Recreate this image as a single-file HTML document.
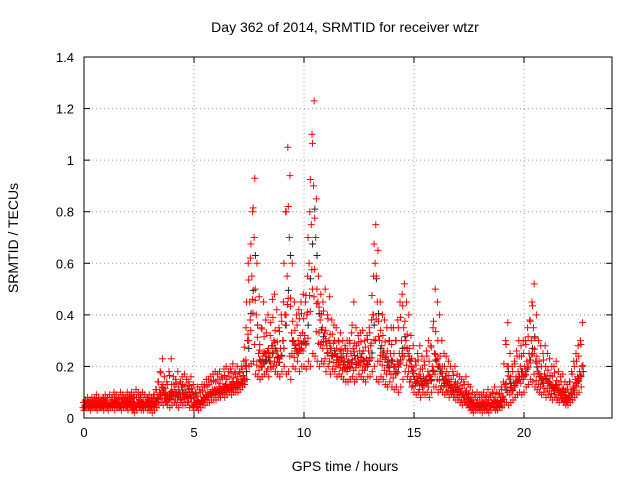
<!DOCTYPE html>
<html><head><meta charset="utf-8"><style>
body{margin:0;background:#fff}
svg{display:block;font-family:"Liberation Sans",sans-serif}
</style></head><body>
<svg id="chart" width="640" height="480">
<rect width="640" height="480" fill="#fff"/>
<g id="grid"></g>
<g id="blackpts"></g>
<g id="redpts"></g>
<rect x="84" y="57" width="528" height="361" fill="none" stroke="#000" stroke-width="1"/>
<g id="ticks"></g>
<text x="345" y="32" text-anchor="middle" font-size="14">Day 362 of 2014, SRMTID for receiver wtzr</text>
<text x="345" y="471" text-anchor="middle" font-size="14">GPS time / hours</text>
<text x="18" y="238" text-anchor="middle" font-size="14" transform="rotate(-90 18 238)">SRMTID / TECUs</text>
</svg>
<script>
const xTicks=[0,5,10,15,20];
const yTicks=[0,0.2,0.4,0.6,0.8,1,1.2,1.4];
const times=[0,0.1,0.2,0.3,0.4,0.5,0.6,0.7,0.8,0.9,1,1.1,1.2,1.3,1.4,1.5,1.6,1.7,1.8,1.9,2,2.1,2.2,2.3,2.4,2.5,2.6,2.7,2.8,2.9,3,3.1,3.2,3.3,3.4,3.5,3.6,3.7,3.8,3.9,4,4.1,4.2,4.3,4.4,4.5,4.6,4.7,4.8,4.9,5,5.1,5.2,5.3,5.4,5.5,5.6,5.7,5.8,5.9,6,6.1,6.2,6.3,6.4,6.5,6.6,6.7,6.8,6.9,7,7.1,7.2,7.3,7.4,7.5,7.6,7.7,7.8,7.9,8,8.1,8.2,8.3,8.4,8.5,8.6,8.7,8.8,8.9,9,9.1,9.2,9.3,9.4,9.5,9.6,9.7,9.8,9.9,10,10.1,10.2,10.3,10.4,10.5,10.6,10.7,10.8,10.9,11,11.1,11.2,11.3,11.4,11.5,11.6,11.7,11.8,11.9,12,12.1,12.2,12.3,12.4,12.5,12.6,12.7,12.8,12.9,13,13.1,13.2,13.3,13.4,13.5,13.6,13.7,13.8,13.9,14,14.1,14.2,14.3,14.4,14.5,14.6,14.7,14.8,14.9,15,15.1,15.2,15.3,15.4,15.5,15.6,15.7,15.8,15.9,16,16.1,16.2,16.3,16.4,16.5,16.6,16.7,16.8,16.9,17,17.1,17.2,17.3,17.4,17.5,17.6,17.7,17.8,17.9,18,18.1,18.2,18.3,18.4,18.5,18.6,18.7,18.8,18.9,19,19.1,19.2,19.3,19.4,19.5,19.6,19.7,19.8,19.9,20,20.1,20.2,20.3,20.4,20.5,20.6,20.7,20.8,20.9,21,21.1,21.2,21.3,21.4,21.5,21.6,21.7,21.8,21.9,22,22.1,22.2,22.3,22.4,22.5,22.6];
const valsLow=[.03,.04,.04,.03,.04,.04,.03,.04,.04,.03,.04,.03,.04,.04,.03,.04,.04,.03,.04,.04,.03,.04,.03,.02,.03,.04,.03,.03,.04,.03,.03,.02,.03,.04,.05,.06,.05,.06,.05,.04,.05,.06,.05,.04,.06,.05,.05,.06,.04,.05,.03,.04,.03,.04,.05,.05,.06,.06,.07,.07,.07,.08,.08,.09,.08,.09,.10,.09,.10,.10,.10,.11,.12,.13,.15,.20,.21,.22,.17,.16,.15,.16,.17,.18,.16,.19,.20,.18,.17,.16,.18,.20,.17,.18,.15,.20,.19,.22,.18,.20,.20,.19,.22,.20,.25,.24,.22,.20,.22,.21,.18,.20,.17,.19,.18,.16,.17,.16,.15,.14,.14,.15,.16,.14,.15,.17,.16,.15,.14,.16,.16,.18,.20,.15,.14,.16,.15,.13,.12,.14,.12,.11,.12,.10,.12,.15,.18,.16,.14,.12,.10,.09,.10,.08,.10,.09,.10,.08,.10,.12,.12,.10,.11,.10,.09,.10,.08,.09,.08,.07,.07,.06,.05,.06,.05,.04,.03,.02,.03,.03,.03,.02,.03,.03,.02,.03,.04,.03,.03,.04,.04,.05,.06,.05,.06,.07,.08,.09,.10,.09,.10,.12,.13,.15,.14,.12,.11,.10,.09,.10,.08,.09,.08,.07,.08,.07,.06,.07,.06,.05,.05,.06,.07,.08,.09,.10,.12];
const valsMid=[.05,.05,.06,.05,.05,.06,.05,.06,.05,.06,.06,.05,.06,.06,.07,.06,.05,.06,.07,.06,.06,.07,.06,.05,.06,.07,.06,.05,.06,.07,.05,.06,.07,.08,.10,.12,.10,.09,.08,.10,.10,.11,.09,.10,.12,.09,.10,.11,.09,.10,.06,.07,.06,.07,.08,.09,.10,.10,.11,.11,.11,.12,.11,.12,.13,.12,.13,.14,.13,.14,.14,.15,.16,.20,.30,.45,.55,.70,.40,.25,.22,.24,.25,.26,.22,.28,.30,.26,.24,.27,.30,.40,.55,.70,.33,.30,.28,.30,.32,.33,.32,.40,.60,.75,.90,.70,.45,.38,.35,.33,.28,.30,.27,.29,.25,.24,.26,.23,.22,.24,.22,.25,.27,.23,.24,.26,.25,.22,.23,.26,.28,.40,.60,.45,.30,.28,.26,.24,.22,.25,.22,.20,.22,.25,.30,.35,.30,.25,.22,.18,.15,.16,.17,.14,.16,.15,.18,.16,.20,.25,.22,.20,.18,.15,.16,.14,.13,.12,.13,.11,.11,.10,.09,.10,.08,.07,.06,.05,.06,.05,.05,.06,.05,.06,.05,.06,.07,.06,.05,.07,.08,.12,.20,.15,.12,.14,.16,.18,.20,.18,.20,.22,.25,.30,.35,.22,.18,.16,.15,.17,.15,.14,.13,.12,.13,.11,.10,.11,.09,.08,.08,.10,.12,.15,.16,.18,.20];
const valsHigh=[.07,.08,.07,.08,.07,.09,.08,.07,.08,.09,.08,.09,.08,.10,.09,.08,.10,.09,.08,.10,.09,.10,.09,.11,.10,.09,.10,.09,.08,.09,.08,.09,.11,.14,.18,.23,.16,.14,.18,.23,.16,.15,.18,.14,.16,.17,.15,.14,.16,.13,.10,.12,.11,.13,.13,.15,.15,.16,.17,.18,.17,.18,.16,.19,.20,.18,.19,.21,.18,.20,.18,.20,.22,.35,.60,.62,.80,.93,.60,.47,.35,.45,.38,.40,.32,.46,.48,.42,.35,.40,.45,.80,1.05,.94,.60,.45,.40,.42,.45,.48,.45,.55,.80,1.10,1.23,.85,.55,.48,.45,.50,.40,.47,.38,.36,.35,.30,.33,.30,.28,.30,.30,.33,.45,.35,.32,.33,.34,.30,.32,.35,.38,.55,.75,.65,.45,.40,.38,.35,.30,.35,.35,.30,.38,.45,.48,.52,.45,.40,.32,.28,.22,.25,.28,.24,.22,.26,.30,.28,.35,.50,.45,.40,.30,.25,.24,.22,.20,.18,.20,.17,.16,.15,.14,.16,.13,.12,.10,.09,.10,.09,.09,.10,.08,.11,.09,.10,.12,.10,.09,.12,.14,.30,.37,.25,.20,.22,.26,.30,.28,.30,.30,.35,.38,.45,.52,.40,.30,.28,.25,.28,.25,.23,.20,.20,.22,.18,.16,.17,.14,.13,.14,.18,.22,.25,.28,.30,.37];

const X0=84,X1=612,Y0=418,Y1=57,XMAX=24,YMAX=1.4;
function sx(v){return X0+(v/XMAX)*(X1-X0);}
function sy(v){return Y0-(v/YMAX)*(Y0-Y1);}
const NS="http://www.w3.org/2000/svg";
const grid=document.getElementById('grid'),ticks=document.getElementById('ticks');
function mk(tag,attrs,parent){const e=document.createElementNS(NS,tag);for(const k in attrs)e.setAttribute(k,attrs[k]);parent.appendChild(e);return e;}
xTicks.forEach(t=>{
  const x=sx(t);
  if(t>0){const g=mk('line',{x1:x,x2:x,y1:Y0,y2:Y1,stroke:'#999','stroke-dasharray':'1,3'},grid);
  
  }
  mk('line',{x1:x,x2:x,y1:Y0,y2:Y0-6,stroke:'#000'},ticks);
  mk('line',{x1:x,x2:x,y1:Y1,y2:Y1+6,stroke:'#000'},ticks);
  const l=mk('text',{x:x,y:Y0+19,'text-anchor':'middle','font-size':'13'},ticks);
  l.textContent=t;
  
  
});
yTicks.forEach(t=>{
  const y=sy(t);
  if(t>0&&t<1.4){const g=mk('line',{x1:X0,x2:X1,y1:y,y2:y,stroke:'#999','stroke-dasharray':'1,3'},grid);
  
  }
  mk('line',{x1:X0,x2:X0+6,y1:y,y2:y,stroke:'#000'},ticks);
  mk('line',{x1:X1,x2:X1-6,y1:y,y2:y,stroke:'#000'},ticks);
  const l=mk('text',{x:X0-10,y:y+5,'text-anchor':'end','font-size':'13'},ticks);
  l.textContent=t===0?'0':(Number.isInteger(t)?t:t.toFixed(1));
  
  
});
function plus(parent,t,v,color,dx){
  const x=sx(t)+dx,y=sy(v);
  const p=mk('path',{d:`M${x-3.5} ${y}h7M${x} ${y-3.5}v7`,stroke:color,'stroke-width':'1',fill:'none'},parent);
  
  
}
const bp=document.getElementById('blackpts'),rp=document.getElementById('redpts');
times.forEach((t,i)=>plus(bp,t,valsMid[i]*0.9,'#222',2));
times.forEach((t,i)=>{
  plus(rp,t,valsLow[i],'#f00',0);
  plus(rp,t,valsMid[i],'#f00',0.7);
  plus(rp,t,valsHigh[i],'#f00',1.4);
  plus(rp,t,(valsLow[i]+valsMid[i])/2,'#f00',-1);
  plus(rp,t,(valsMid[i]+valsHigh[i])/2,'#f00',-0.3);
  plus(rp,t,(valsLow[i]*2+valsHigh[i])/3,'#f00',1.8);
});
</script>
</body></html>
